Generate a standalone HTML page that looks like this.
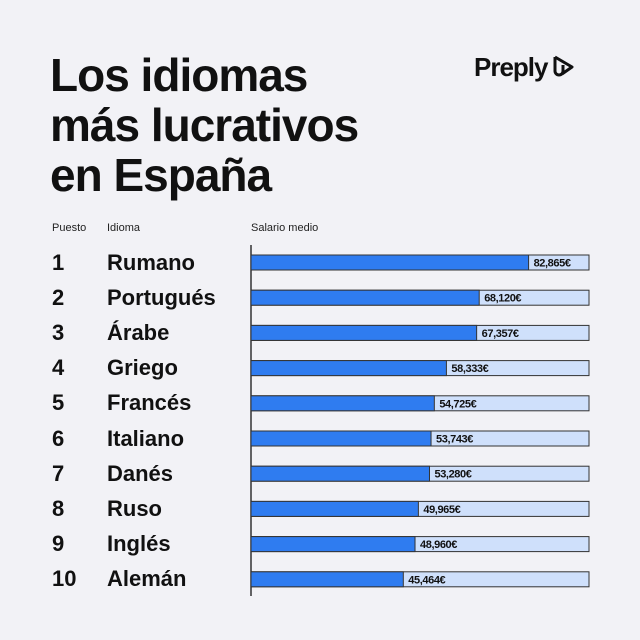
<!DOCTYPE html>
<html><head><meta charset="utf-8"><style>
body{margin:0;width:640px;height:640px;background:#f2f2f6;font-family:"Liberation Sans",sans-serif;position:relative;overflow:hidden;color:#111}
.t{position:absolute;left:50px;top:50px;font-size:46px;font-weight:bold;line-height:50px;letter-spacing:-1px}
.logo{position:absolute;left:474px;top:52px;font-size:26px;font-weight:bold;letter-spacing:-1px}
.h{position:absolute;top:222px;font-size:11px;color:#222}
.rk,.lg{position:absolute;font-size:22px;font-weight:bold;letter-spacing:0px}
</style></head><body>
<div class="t">Los idiomas<br>más lucrativos<br>en España</div>
<div class="logo">Preply<svg width="26" height="26" viewBox="0 0 26 26" style="vertical-align:-4px;margin-left:2px"><path d="M5 3 L22 13 L12 20 M5 3 L5 17 a4 4 0 0 0 8 0 L13 11" fill="none" stroke="#111" stroke-width="3" stroke-linejoin="round"/></svg></div>
<div class="h" style="left:52px">Puesto</div>
<div class="h" style="left:107px">Idioma</div>
<div class="h" style="left:251px">Salario medio</div>
<svg id="c" width="640" height="640" style="position:absolute;left:0;top:0"></svg>
<div id="labels"></div>
<script>
const languages=["Rumano","Portugués","Árabe","Griego","Francés","Italiano","Danés","Ruso","Inglés","Alemán"];
const salaries=[82865,68120,67357,58333,54725,53743,53280,49965,48960,45464];
const salaryLabels=["82,865€","68,120€","67,357€","58,333€","54,725€","53,743€","53,280€","49,965€","48,960€","45,464€"];
const NS="http://www.w3.org/2000/svg";
const svg=document.getElementById('c');
const x0=251,xw=338,sc=0.00335;
const xs=v=>x0+v*sc;
const yc=i=>262.5+i*35.2;
function mk(t,a){const e=document.createElementNS(NS,t);for(const k in a)e.setAttribute(k,a[k]);svg.appendChild(e);return e;}
const ax=mk('line',{x1:x0,y1:245,x2:x0,y2:596,stroke:'#333','stroke-width':1.5});


const lab=document.getElementById('labels');
salaries.forEach((v,i)=>{
 const y=yc(i);
 const bg=mk('rect',{x:x0,y:y-7.5,width:xw,height:15,fill:'#cfe0fb',stroke:'#333','stroke-width':1});
 
 
 const b=mk('rect',{x:x0,y:y-7.5,width:xs(v)-x0,height:15,fill:'#2f7cf0',stroke:'#333','stroke-width':1});
 
 
 const tx=mk('text',{x:xs(v)+5,y:y+4,'font-size':11,'font-weight':'bold','font-family':'Liberation Sans',fill:'#111','letter-spacing':'-0.4'});
 tx.textContent=salaryLabels[i];
 
 
 const r=document.createElement('div');r.className='rk';r.style.left='52px';r.style.top=(y-13)+'px';r.textContent=i+1;
 
 
 lab.appendChild(r);
 const l=document.createElement('div');l.className='lg';l.style.left='107px';l.style.top=(y-13)+'px';l.textContent=languages[i];
 
 
 lab.appendChild(l);
});
</script>
</body></html>
